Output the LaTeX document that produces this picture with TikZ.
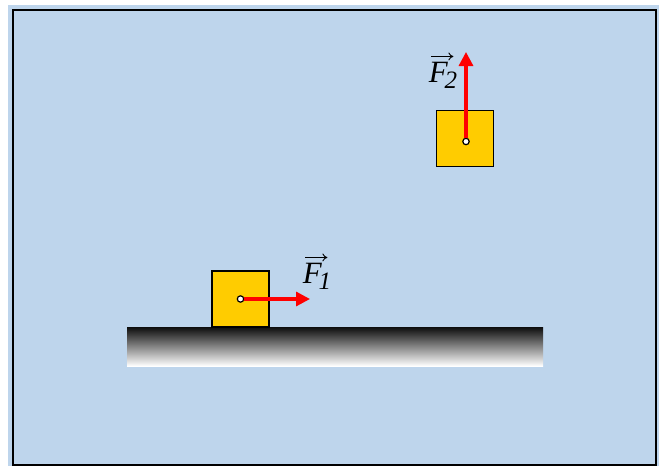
\documentclass[tikz,border=0pt]{standalone}
\usepackage{fontspec}
\setmainfont{Liberation Serif}
\usetikzlibrary{arrows.meta, positioning}
\definecolor{sky}{HTML}{BED5EC}
\definecolor{block}{HTML}{FFCC00}
\definecolor{force}{HTML}{FF0000}
\tikzset{
  blockbox/.style ={draw=black, line width=0.8pt, fill=block,
                    minimum width=28.5pt, minimum height=28pt, inner sep=0pt},
  pivot/.style    ={circle, draw=black, fill=white, line width=0.6pt,
                    minimum size=3.2pt, inner sep=0pt},
  forcearrow/.style={-{Triangle[length=7pt,width=7pt]}, line width=1.6pt, draw=force},
  vecarrow/.style ={-{To[length=2.5pt,width=4pt]}, line width=0.45pt},
  flabel/.style   ={font=\fontsize{15.5}{18}\selectfont\itshape, inner sep=0pt}
}
\newcommand{\forcename}[1]{F\kern-1.5pt\raisebox{-3pt}{\fontsize{12.5}{14}\selectfont #1}}

\begin{document}
\begin{tikzpicture}[x=0.5pt, y=-0.5pt]
  \useasboundingbox (0,0) rectangle (659,466);
  \fill[sky] (8,5) rectangle (659,466);
  \draw[line width=1pt] (13,10) rectangle (656,465);

  % ground
  \shade[top color=black!95, bottom color=white] (127,327) rectangle (543,366);

  % block on the ground
  \node[blockbox] (b1) at (240.5,299) {};
  \node[pivot] (c1) at (b1.center) {};
  \coordinate (t1) at (310,299);
  \draw[forcearrow] (c1.east) -- (t1);
  \node[flabel] (f1) at (317,276) {\forcename{1}};
  \draw[vecarrow] ([xshift=1.5pt,yshift=2.5pt]f1.north west) -- ++(11pt,0);

  % hanging block
  \node[blockbox] (b2) at (465,138.5) {};
  \node[pivot] (c2) at (466,141.5) {};
  \coordinate (t2) at (466,52);
  \draw[forcearrow] (c2.north) -- (t2);
  \node[flabel] (f2) at (443,75) {\forcename{2}};
  \draw[vecarrow] ([xshift=1.5pt,yshift=2.5pt]f2.north west) -- ++(11pt,0);
\end{tikzpicture}
\end{document}
